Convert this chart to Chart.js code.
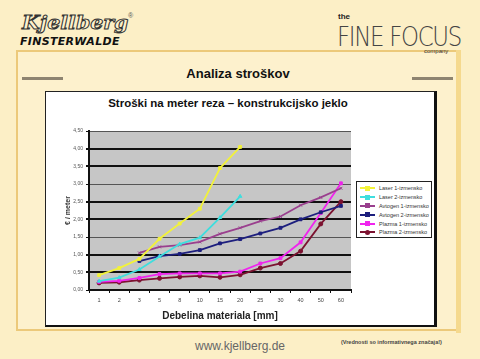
<!DOCTYPE html>
<html>
<head>
<meta charset="utf-8">
<script src="https://cdn.jsdelivr.net/npm/chart.js@4"></script>
<style>
  html, body { margin: 0; padding: 0; }
  body { width: 480px; height: 359px; background: #fcefc6; position: relative; overflow: hidden; font-family: "Liberation Sans", Arial, sans-serif; }
  .abs { position: absolute; }
  #panel { left: 16px; top: 50px; width: 442px; height: 281px; border: 2px solid #ecc97a; background: #fdf1cd; box-sizing: border-box; }
  #stripe { left: 456px; top: 50px; width: 5px; height: 283px; background: #f5d98e; }
  #box { left: 45px; top: 91px; width: 392px; height: 236px; background: #fff; border: 1px solid #222; border-right: 3px solid #111; border-bottom: 2px solid #111; box-sizing: border-box; }
  .rule { height: 3px; background: #8e8470; top: 77px; width: 41px; }
  #kj { left: 22px; top: 11px; font: italic bold 19px "DejaVu Serif", serif; color: #fdf1cd; -webkit-text-stroke: 1px #333; transform: scaleX(1.08); transform-origin: left top; }
  #reg { left: 128px; top: 12px; font-size: 7px; color: #555; }
  #fin { left: 20px; top: 35px; font: italic bold 11px "DejaVu Sans", sans-serif; color: #111; letter-spacing: 0.3px; }
  #the { left: 338px; top: 12px; font: bold 8px "Liberation Sans", sans-serif; color: #222; }
  #ff { left: 337px; top: 22px; font: 200 26px "DejaVu Sans", sans-serif; color: #444; letter-spacing: -1.5px; transform: scaleX(0.88); transform-origin: left top; }
  #comp { left: 424px; top: 48px; font: 6px "Liberation Sans", sans-serif; color: #333; }
  #title { left: 0; width: 476px; top: 66px; text-align: center; font: bold 13px "Liberation Sans", Arial, sans-serif; color: #111; }
  #ctitle { left: 103px; width: 250px; top: 97px; text-align: center; font: bold 11.5px "Liberation Sans", Arial, sans-serif; color: #111; }
  #legend { left: 356px; top: 181px; width: 76px; height: 57px; border: 1px solid #222; background: #fff; box-sizing: border-box; padding: 2px 0 0 3px; }
  .li { height: 8.8px; display: flex; align-items: center; font: 5.5px "Liberation Sans", sans-serif; color: #333; white-space: nowrap; }
  .sw { width: 15px; height: 2px; margin-right: 4px; position: relative; }
  .mk { position: absolute; left: 5px; top: -1.5px; width: 5px; height: 5px; }
  #url { left: 0; width: 480px; top: 339px; text-align: center; font: 12px "Liberation Sans", Arial, sans-serif; color: #666; }
  #note { left: 341px; top: 339px; font: bold 5.5px "Liberation Sans", sans-serif; color: #444; }
  #chartWrap { left: 46px; top: 93px; width: 390px; height: 232px; }
</style>
</head>
<body>
<div class="abs" id="panel"></div>
<div class="abs" id="stripe"></div>
<div class="abs" id="kj">Kjellberg</div>
<div class="abs" id="reg">®</div>
<div class="abs" id="fin">FINSTERWALDE</div>
<div class="abs" id="the">the</div>
<div class="abs" id="ff">FINE FOCUS</div>
<div class="abs" id="comp">company</div>
<div class="abs rule" style="left:22px"></div>
<div class="abs rule" style="left:412px"></div>
<div class="abs" id="title">Analiza stroškov</div>
<div class="abs" id="box"></div>
<div class="abs" id="ctitle">Stroški na meter reza – konstrukcijsko jeklo</div>
<div class="abs" id="chartWrap"><canvas id="costChart" width="390" height="232"></canvas></div>
<div class="abs" id="legend"></div>
<div class="abs" id="url">www.kjellberg.de</div>
<div class="abs" id="note">(Vrednosti so informativnega značaja!)</div>

<script>
// debelina materiala [mm]
const thickness = ['1', '2', '3', '5', '8', '10', '15', '20', '25', '30', '40', '50', '60'];
const yTicks = [0, 0.5, 1, 1.5, 2, 2.5, 3, 3.5, 4, 4.5];

const laser1 = [0.42, 0.62, 0.88, 1.45, 1.88, 2.30, 3.45, 4.05, null, null, null, null, null];
const laser2 = [0.25, 0.35, 0.58, 0.95, 1.30, 1.48, 2.05, 2.65, null, null, null, null, null];
const avtogen1 = [null, null, 1.05, 1.22, 1.27, 1.36, 1.59, 1.76, 1.95, 2.08, 2.40, 2.62, 2.88];
const avtogen2 = [null, null, 0.82, 0.96, 1.02, 1.13, 1.32, 1.44, 1.60, 1.76, 2.00, 2.20, 2.38];
const plazma1 = [0.23, 0.26, 0.34, 0.45, 0.47, 0.47, 0.47, 0.52, 0.75, 0.90, 1.35, 2.18, 3.02];
const plazma2 = [0.20, 0.22, 0.28, 0.33, 0.37, 0.40, 0.36, 0.43, 0.62, 0.75, 1.10, 1.87, 2.50];

const seriesNames = ['Laser 1-izmensko', 'Laser 2-izmensko', 'Avtogen 1-izmensko', 'Avtogen 2-izmensko', 'Plazma 1-izmensko', 'Plazma 2-izmensko'];
const seriesData = [laser1, laser2, avtogen1, avtogen2, plazma1, plazma2];
const seriesColors = ['#f2f23a', '#3fdede', '#9a3f8e', '#1d1f7e', '#f024ee', '#7c1230'];
const seriesPoints = ['rect', 'triangle', 'crossRot', 'rect', 'rect', 'circle'];

const thickGrid = [0.5, 1, 2, 2.5, 3.5, 4];

const plotBg = {
  id: 'plotBg',
  beforeDraw(chart) {
    const {ctx, chartArea: a} = chart;
    ctx.save();
    ctx.fillStyle = '#c6c6c6';
    ctx.fillRect(a.left, a.top, a.right - a.left, a.bottom - a.top);
    ctx.restore();
  }
};

new Chart(document.getElementById('costChart'), {
  type: 'line',
  data: {
    labels: thickness,
    datasets: seriesData.map((d, i) => ({
      label: seriesNames[i],
      data: d,
      borderColor: seriesColors[i],
      backgroundColor: seriesColors[i],
      borderWidth: 1.8,
      pointStyle: seriesPoints[i],
      pointRadius: 2,
      pointBorderWidth: 1,
      tension: 0
    }))
  },
  options: {
    responsive: false,
    animation: false,
    layout: { padding: { top: 38, right: 85, bottom: 0, left: 0 } },
    plugins: { legend: { display: false }, tooltip: { enabled: false } },
    scales: {
      x: {
        offset: true,
        afterFit: s => { s.height = 35; },
        grid: { display: true, drawOnChartArea: false, offset: true, tickLength: 3, color: '#111' },
        border: { color: '#111', width: 2 },
        ticks: { font: { size: 5.5, family: 'Liberation Sans' }, color: '#444', padding: 4, maxRotation: 0, autoSkip: false },
        title: { display: true, text: 'Debelina materiala [mm]', font: { size: 10, weight: 'bold', family: 'Liberation Sans' }, color: '#222', padding: { top: 0, bottom: 3 } }
      },
      y: {
        min: 0,
        max: 4.5,
        afterFit: s => { s.width = 43; },
        afterBuildTicks: s => { s.ticks = yTicks.map(v => ({ value: v })); },
        grid: {
          color: c => thickGrid.includes(c.tick.value) ? '#111' : '#555',
          lineWidth: c => thickGrid.includes(c.tick.value) ? 2 : 1,
          tickLength: 3,
          tickColor: '#111'
        },
        border: { color: '#111', width: 2 },
        ticks: {
          font: { size: 5, family: 'Liberation Sans' },
          color: '#555',
          padding: 3,
          callback: v => v.toFixed(2).replace('.', ',')
        },
        title: { display: true, text: '€ / meter', font: { size: 7, weight: 'bold', family: 'Liberation Sans' }, color: '#333', padding: { top: 18, bottom: 0 } }
      }
    }
  },
  plugins: [plotBg]
});

document.getElementById('legend').innerHTML = seriesNames.map((n, i) => `
  <div class="li"><span class="sw" style="background:${seriesColors[i]}"><span class="mk" style="background:${seriesColors[i]};${seriesPoints[i] === 'circle' ? 'border-radius:50%;' : ''}"></span></span>${n}</div>
`).join('');
</script>
</body>
</html>
